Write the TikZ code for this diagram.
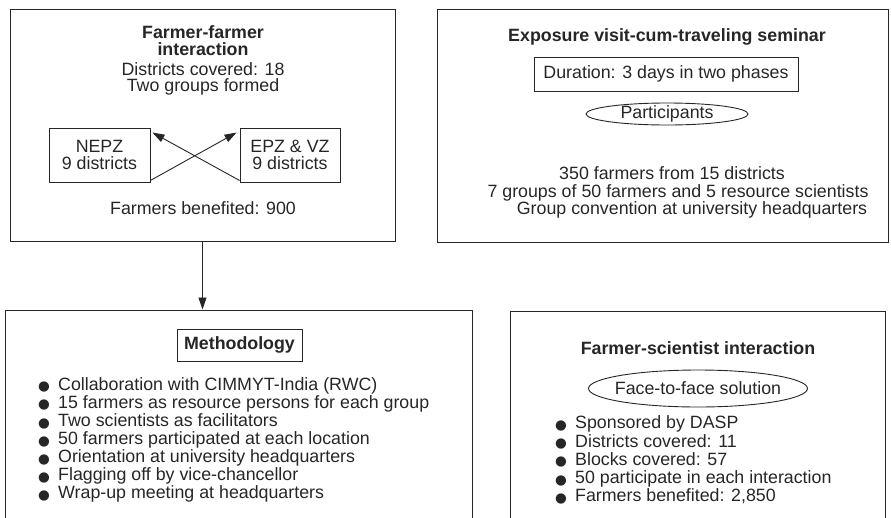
\documentclass[tikz,border=0pt]{standalone}
\usepackage{fontspec}
\setmainfont{Liberation Sans}
\newfontfamily\symfont{DejaVu Sans}
\usetikzlibrary{arrows.meta,positioning,shapes.geometric}
\definecolor{ink}{HTML}{262626}
\newcommand{\dotbul}{\makebox[20pt][l]{\raisebox{-0.6pt}{\symfont\fontsize{13.5}{13.5}\selectfont ●}}}
\newcommand{\firstln}{\rule{0pt}{13pt}}

\begin{document}
\begin{tikzpicture}[x=1pt,y=-1pt,
    panel/.style={draw=ink,line width=1pt,inner sep=0pt},
    tag/.style={draw=ink,line width=0.9pt,inner sep=0pt},
    txt/.style={text=ink,align=center,font=\fontsize{17.8}{17}\selectfont},
    head/.style={text=ink,align=center,font=\fontsize{17.8}{17}\selectfont\bfseries},
    items/.style={text=ink,align=left,anchor=north west,inner sep=0pt,font=\fontsize{17.8}{18.1}\selectfont},
    cross/.style={ink,line width=0.9pt,-{Triangle[length=12pt,width=8pt]}},
    link/.style={ink,line width=0.9pt,-{Triangle[length=12pt,width=8pt]}}]
  \useasboundingbox (0,0) rectangle (891,517);
  \clip (0,0) rectangle (891,517);

  % Top left: farmer-farmer
  \node[panel,minimum width=385pt,minimum height=232pt] (ffbox) at (202.5,125) {};
  \node[head,anchor=north,inner sep=0pt] (ffhead) at (203,25) {\firstln Farmer-farmer\\interaction};
  \node[txt,anchor=north,inner sep=0pt,font=\fontsize{17.8}{16.5}\selectfont] (ffinfo) at (203,62) {\firstln Districts covered: 18\\Two groups formed};
  \node[tag,txt,minimum width=101pt,minimum height=54pt] (nepz) at (99.5,155) {NEPZ\\9 districts};
  \node[tag,txt,minimum width=100pt,minimum height=54pt] (epz) at (290,155) {EPZ \& VZ\\9 districts};
  \draw[cross] ([yshift=2pt]nepz.south east) -- ([xshift=-3pt,yshift=-5pt]epz.north west);
  \draw[cross] ([yshift=2pt]epz.south west) -- ([xshift=2pt,yshift=-5pt]nepz.north east);
  \node[txt,anchor=base] (ffgain) at (203,214) {Farmers benefited: 900};

  % Top right: exposure visit
  \node[panel,minimum width=451pt,minimum height=233pt] (exbox) at (662.5,125.5) {};
  \node[head,anchor=base] (exhead) at (667,41) {Exposure visit-cum-traveling seminar};
  \node[tag,txt,minimum width=264pt,minimum height=34pt] (dur) at (666,74) {Duration: 3 days in two phases};
  \node[txt,inner sep=0pt] (part) at (667,114) {Participants};
  \draw[ink,line width=0.9pt] (part.center) ellipse [x radius=81pt,y radius=11pt];
  \node[txt,anchor=base] (exone) at (672,179) {350 farmers from 15 districts};
  \node[txt,anchor=base] (extwo) at (678,197) {7 groups of 50 farmers and 5 resource scientists};
  \node[txt,anchor=base] (exthree) at (692,214) {Group convention at university headquarters};

  % Bottom left: methodology
  \node[panel,minimum width=467pt,minimum height=230pt] (mebox) at (238.5,425) {};
  \node[tag,head,minimum width=125pt,minimum height=32pt] (methhead) at (239.5,345) {Methodology};
  \node[items] (methlist) at (38,377) {%
    \firstln\dotbul Collaboration with CIMMYT-India (RWC)\\
    \dotbul 15 farmers as resource persons for each group\\
    \dotbul Two scientists as facilitators\\
    \dotbul 50 farmers participated at each location\\
    \dotbul Orientation at university headquarters\\
    \dotbul Flagging off by vice-chancellor\\
    \dotbul Wrap-up meeting at headquarters};

  % Bottom right: farmer-scientist
  \node[panel,minimum width=375pt,minimum height=230pt] (fsbox) at (697.5,426) {};
  \node[head,anchor=base] (fshead) at (698,354) {Farmer-scientist interaction};
  \node[txt,inner sep=0pt] (face) at (698,388.5) {Face-to-face solution};
  \draw[ink,line width=0.9pt] (face.center) ellipse [x radius=109.5pt,y radius=18.5pt];
  \node[items,font=\fontsize{17.8}{18.3}\selectfont] (fslist) at (555,415.5) {%
    \firstln\dotbul Sponsored by DASP\\
    \dotbul Districts covered: 11\\
    \dotbul Blocks covered: 57\\
    \dotbul 50 participate in each interaction\\
    \dotbul Farmers benefited: 2,850};

  % Link between panels
  \draw[link] (ffbox.south) -- (ffbox.south |- mebox.north);
\end{tikzpicture}
\end{document}
